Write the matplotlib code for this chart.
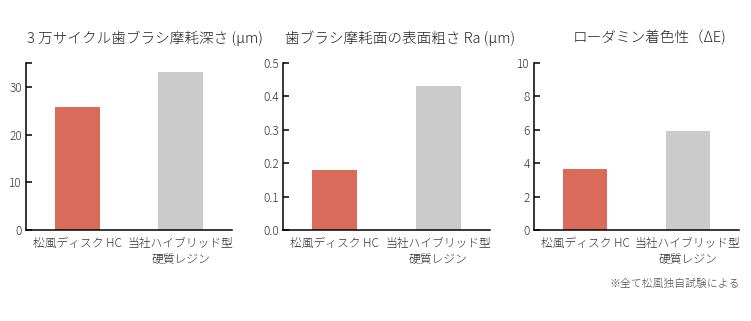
import matplotlib
matplotlib.use("Agg")
import matplotlib.pyplot as plt

plt.rcParams['font.family'] = ['Noto Sans CJK JP', 'DejaVu Sans']
plt.rcParams['font.weight'] = 'light'

categories = ["松風ディスク HC", "当社ハイブリッド型\n硬質レジン"]
wear_depth = [25.7, 33.2]
roughness = [0.18, 0.43]
staining = [3.65, 5.95]

titles = ["3 万サイクル歯ブラシ摩耗深さ (μm)", "歯ブラシ摩耗面の表面粗さ Ra (μm)", "ローダミン着色性（ΔE)"]
footnote = "※全て松風独自試験による"

colors = ["#D86B5A", "#CBCBCB"]

W, H = 751, 321
fig = plt.figure(figsize=(W / 100, H / 100), dpi=100)

panels = [
    (26, 232, wear_depth, (0, 35), [0, 10, 20, 30, 35], ["0", "10", "20", "30", ""]),
    (283, 490, roughness, (0, 0.5), [0, 0.1, 0.2, 0.3, 0.4, 0.5], ["0.0", "0.1", "0.2", "0.3", "0.4", "0.5"]),
    (534, 739, staining, (0, 10), [0, 2, 4, 6, 8, 10], ["0", "2", "4", "6", "8", "10"]),
]
top, bottom = 63, 230
title_x = [27, 285, 573]

for i, (l, r, vals, ylim, yt, ytl) in enumerate(panels):
    ax = fig.add_axes([l / W, (H - bottom) / H, (r - l) / W, (bottom - top) / H])
    ax.bar(range(len(vals)), vals, width=0.43, color=colors)
    ax.set_xlim(-0.5, 1.5)
    ax.set_ylim(*ylim)
    ax.set_yticks(yt)
    ax.set_yticklabels(ytl)
    ax.set_xticks(range(len(categories)))
    ax.set_xticklabels(categories, linespacing=1.3)
    for s in ["top", "right"]:
        ax.spines[s].set_visible(False)
    for s in ["left", "bottom"]:
        ax.spines[s].set_linewidth(1.1)
        ax.spines[s].set_color("black")
    ax.tick_params(axis="y", direction="in", length=4, width=1.1, pad=3, labelsize=8.5, labelcolor="#333333")
    ax.tick_params(axis="x", length=0, pad=5, labelsize=8.5, labelcolor="#333333")
    fig.text(title_x[i] / W, 1 - 38 / H, titles[i], ha="left", va="center", fontsize=10.5, color="#222222")

fig.text(740 / W, 1 - 284 / H, footnote, ha="right", va="center", fontsize=7.8, color="#555555")

fig.savefig("out.png", dpi=100)
